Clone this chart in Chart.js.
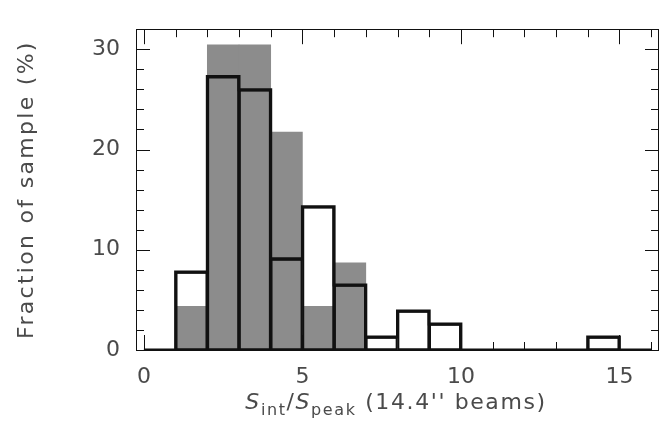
<!DOCTYPE html>
<html>
<head>
<meta charset="utf-8">
<script src="https://cdn.jsdelivr.net/npm/chart.js@4"></script>
<style>
  body { margin: 0; background: #fff; }
  #wrap { width: 664px; height: 422px; }
</style>
</head>
<body>
<div id="wrap"><canvas id="histChart" width="664" height="422"></canvas></div>
<script>
// histogram bins (left edges, width 1)
const binLow = [0, 1, 2, 3, 4, 5, 6, 7, 8, 9, 10, 11, 12, 13, 14, 15];
const binWidth = 1;
// filled grey histogram (%)
const greyPct = [0, 4.35, 30.43, 30.43, 21.74, 4.35, 8.70, 0, 0, 0, 0, 0, 0, 0, 0, 0];
// open black histogram (%)
const openPct = [0, 7.79, 27.27, 25.97, 9.09, 14.29, 6.49, 1.30, 3.90, 2.60, 0, 0, 0, 0, 1.30, 0];
const xTicks = [0, 5, 10, 15];
const yTicks = [0, 10, 20, 30];
const yTitle = "Fraction of sample (%)";

const FONT = "'DejaVu Sans', sans-serif";
const TEXT = "#4a4a4a";
const INK = "#111";

const barPoints = vals => vals.map((v, i) => ({ x: binLow[i] + binWidth / 2, y: v }));
const stepPoints = vals => {
    const pts = vals.map((v, i) => ({ x: binLow[i], y: v }));
    pts.push({ x: binLow[binLow.length - 1] + binWidth, y: vals[vals.length - 1] });
    return pts;
};

// frame, inward ticks and the axis titles
const framePlugin = {
    id: "frame",
    afterDraw(chart) {
        const ctx = chart.ctx;
        const a = chart.chartArea;
        const xs = chart.scales.x, ys = chart.scales.y;
        ctx.save();
        ctx.strokeStyle = INK;
        ctx.lineWidth = 1;
        ctx.strokeRect(Math.round(a.left) + 0.5, Math.round(a.top) + 0.5,
            Math.round(a.right - a.left) - 1, Math.round(a.bottom - a.top));
        ctx.beginPath();
        for (let v = 0; v <= 16; v++) {
            const px = Math.round(xs.getPixelForValue(v)) + 0.5;
            const len = v % 5 === 0 ? 15 : 8;
            ctx.moveTo(px, a.bottom); ctx.lineTo(px, a.bottom - len);
            ctx.moveTo(px, a.top); ctx.lineTo(px, a.top + len);
        }
        for (let v = 0; v <= 32; v += 2) {
            const py = Math.round(ys.getPixelForValue(v)) + 0.5;
            const len = v % 10 === 0 ? 14 : 8;
            ctx.moveTo(a.left, py); ctx.lineTo(a.left + len, py);
            ctx.moveTo(a.right, py); ctx.lineTo(a.right - len, py);
        }
        ctx.stroke();

        ctx.fillStyle = TEXT;
        ctx.textBaseline = "alphabetic";

        // y axis title, rotated
        ctx.save();
        ctx.font = "22px " + FONT;
        ctx.letterSpacing = "2.3px";
        ctx.textAlign = "center";
        ctx.translate(33, (a.top + a.bottom) / 2);
        ctx.rotate(-Math.PI / 2);
        ctx.fillText(yTitle, 0, 0);
        ctx.restore();

        // x axis title: S_int/S_peak (14.4'' beams)
        const parts = [
            { t: "S", f: "italic 22px " + FONT, dy: 0 },
            { t: "int", f: "16px " + FONT, dy: 6 },
            { t: "/", f: "22px " + FONT, dy: 0 },
            { t: "S", f: "italic 22px " + FONT, dy: 0 },
            { t: "peak", f: "16px " + FONT, dy: 6 },
            { t: " (14.4'' beams)", f: "22px " + FONT, dy: 0 }
        ];
        ctx.textAlign = "left";
        ctx.letterSpacing = "1.6px";
        let total = 0;
        parts.forEach(p => { ctx.font = p.f; p.w = ctx.measureText(p.t).width; total += p.w; });
        let x = 396 - total / 2;
        const base = 409;
        parts.forEach(p => { ctx.font = p.f; ctx.fillText(p.t, x, base + p.dy); x += p.w; });
        ctx.restore();
    }
};

new Chart(document.getElementById("histChart"), {
    type: "bar",
    data: {
        datasets: [
            {
                type: "line",
                data: stepPoints(openPct),
                stepped: "before",
                borderColor: INK,
                borderWidth: 3,
                pointRadius: 0,
                fill: false,
                order: 1
            },
            {
                data: barPoints(openPct),
                backgroundColor: "rgba(0,0,0,0)",
                borderColor: INK,
                borderWidth: 1.5,
                borderSkipped: false,
                grouped: false,
                barPercentage: 1,
                categoryPercentage: 1,
                order: 2
            },
            {
                data: barPoints(greyPct),
                backgroundColor: "#8c8c8c",
                borderWidth: 0,
                grouped: false,
                barPercentage: 1,
                categoryPercentage: 1,
                order: 3
            }
        ]
    },
    options: {
        responsive: false,
        animation: false,
        layout: { padding: { top: 7, right: 5, left: 0, bottom: 0 } },
        plugins: { legend: { display: false }, tooltip: { enabled: false } },
        scales: {
            x: {
                type: "linear",
                offset: false,
                min: -0.25,
                max: 16.25,
                grid: { display: false, drawTicks: false },
                border: { display: false },
                afterFit: s => { s.height = 72; },
                afterBuildTicks: s => { s.ticks = xTicks.map(v => ({ value: v })); },
                ticks: {
                    color: TEXT,
                    padding: 14,
                    maxRotation: 0,
                    font: { family: FONT, size: 22 }
                }
            },
            y: {
                min: 0,
                max: 32,
                grid: { display: false, drawTicks: false },
                border: { display: false },
                afterFit: s => { s.width = 136; },
                afterBuildTicks: s => { s.ticks = yTicks.map(v => ({ value: v })); },
                ticks: {
                    color: TEXT,
                    padding: 16,
                    font: { family: FONT, size: 22 }
                }
            }
        }
    },
    plugins: [framePlugin]
});
</script>
</body>
</html>
